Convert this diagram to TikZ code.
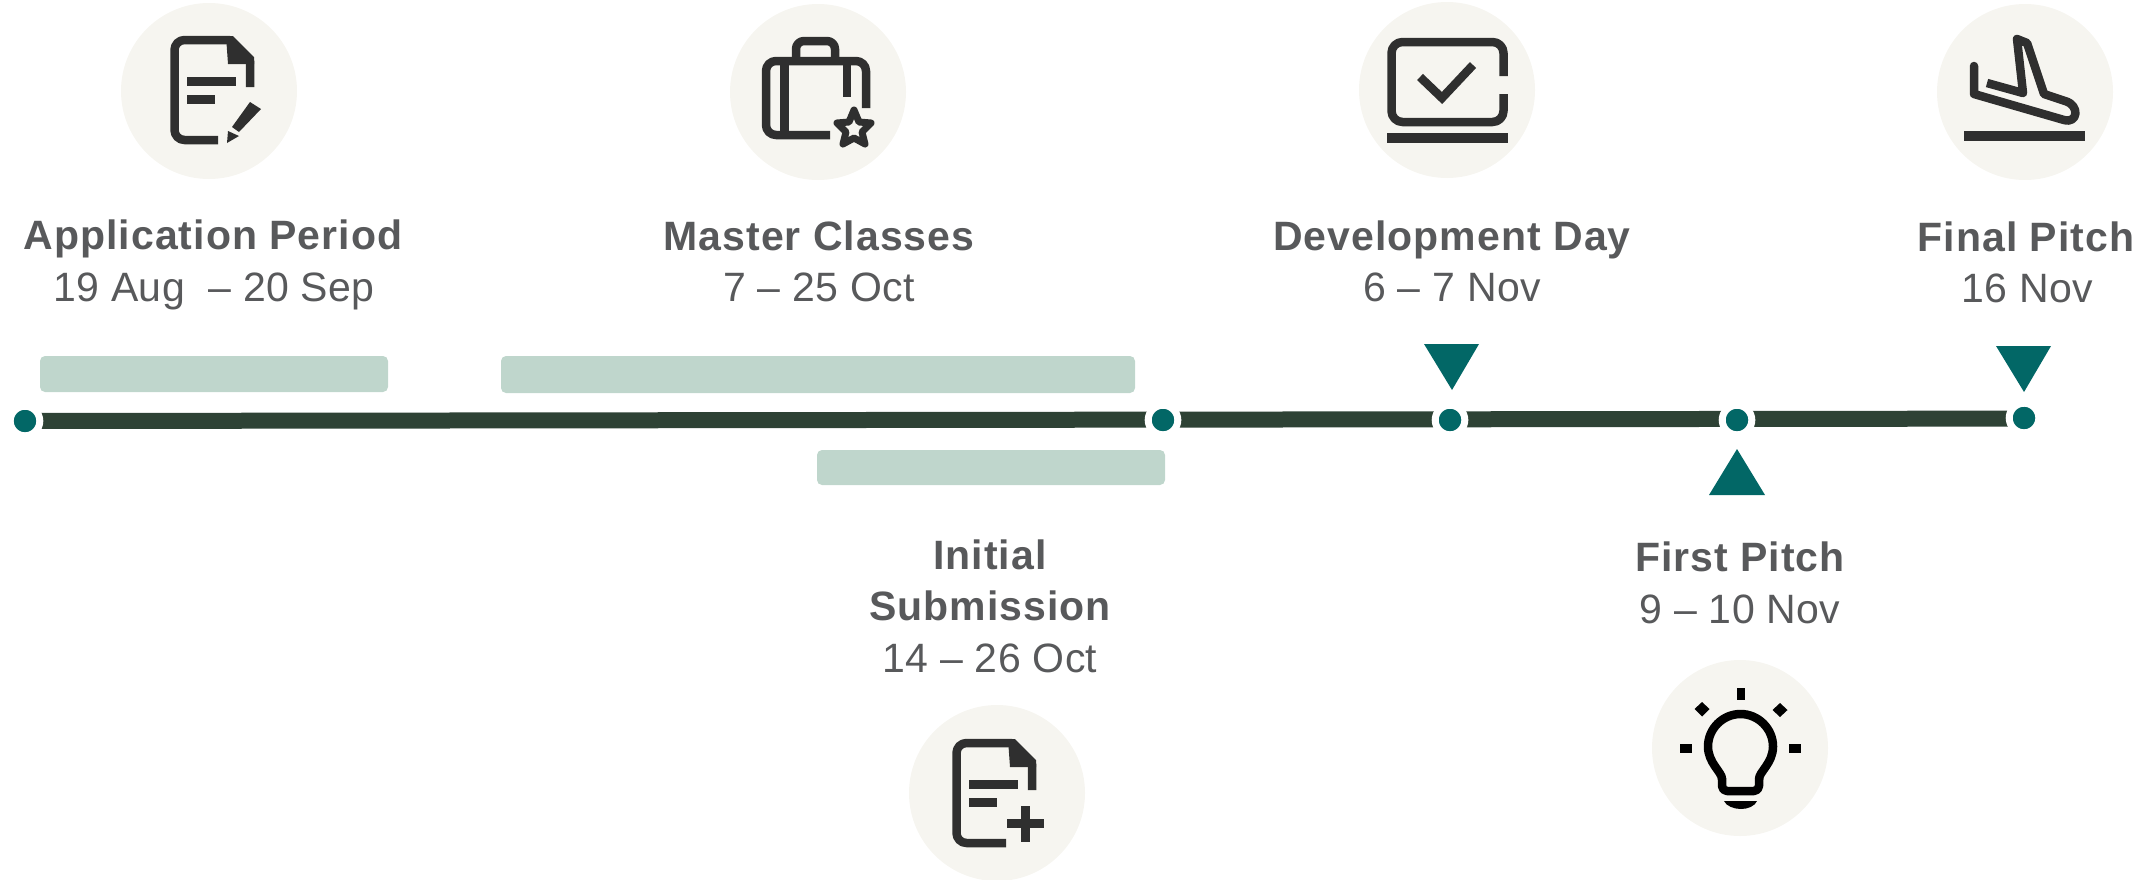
\documentclass[tikz,border=0pt]{standalone}
\usepackage{fontspec}
\setmainfont{Liberation Sans}
\newfontfamily\titlefont[LetterSpace=2.5]{Liberation Sans Bold}
\newfontfamily\datefont[LetterSpace=1]{Liberation Sans}
\definecolor{teal1}{HTML}{026766}
\definecolor{lineC}{HTML}{2E4235}
\definecolor{barC}{HTML}{BFD6CC}
\definecolor{discC}{HTML}{F6F5F0}
\definecolor{txtC}{HTML}{58595B}
\definecolor{iconC}{HTML}{2F2F2F}
\tikzset{
  discbox/.style={circle,fill=discC,draw=none,minimum size=176pt,inner sep=0pt,outer sep=0pt},
  dotbox/.style={circle,fill=teal1,draw=white,line width=7pt,minimum size=29.6pt,inner sep=0pt},
  bandbox/.style={fill=barC,draw=none,rounded corners=5pt},
  markbox/.style={fill=teal1,draw=none},
  titletext/.style={anchor=base,text=txtC,font=\titlefont\fontsize{41}{48}\selectfont,inner sep=0pt},
  datetext/.style={anchor=base,text=txtC,font=\datefont\fontsize{41}{48}\selectfont,inner sep=0pt},
  ico/.style={draw=iconC,line width=8.5pt,line join=round},
  icofill/.style={fill=iconC,draw=none},
}
\newcommand{\docicon}[1]{%
  \draw[ico,rounded corners=10pt] (#1,843) -- (956.5,843) -- (956.5,743) -- (1012,743);
  \draw[ico] (1012,743) -- (1032,764) -- (1032,790);
  \fill[icofill] (1008,739) -- (1015,739) -- (1036,760) -- (1036,767) -- (1010,767) -- cycle;
  \fill[icofill] (969,780) rectangle (1018,789);
  \fill[icofill] (969,798) rectangle (997,807);
}
\begin{document}
\begin{tikzpicture}[x=1pt,y=-1pt]
\useasboundingbox (0,0) rectangle (2154,879);
% discs
\node[discbox] (c1) at (209,91) {};
\node[discbox] (c2) at (818,92) {};
\node[discbox] (c3) at (1447,90) {};
\node[discbox] (c4) at (2025,92) {};
\node[discbox] (c5) at (997,793) {};
\node[discbox] (c6) at (1740,748) {};
% bands
\fill[bandbox] (40,356) rectangle (388,392);
\fill[bandbox] (501,356) rectangle (1135,393);
\fill[bandbox] (817,450) rectangle (1165,485);
% timeline
\coordinate (a) at (25,421);
\coordinate (b) at (2024,418.6);
\draw[lineC,line width=16pt] (a) -- (b);
\node[dotbox] (d1) at (25,421) {};
\node[dotbox] (d2) at (1163,420) {};
\node[dotbox] (d3) at (1450,420) {};
\node[dotbox] (d4) at (1737,420) {};
\node[dotbox] (d5) at (2024,418) {};
% markers
\fill[markbox] (1424,344) -- (1479,344) -- (1452,390) -- cycle;
\fill[markbox] (1709,495) -- (1765,495) -- (1737,449) -- cycle;
\fill[markbox] (1996,346) -- (2051,346) -- (2024,392) -- cycle;
% texts
\node[titletext] (t1) at (213,249) {Application Period};
\node[datetext] (e1) at (214,301) {19 Aug \ – 20 Sep};
\node[titletext] (t2) at (819,250) {Master Classes};
\node[datetext] (e2) at (819,301) {7 – 25 Oct};
\node[titletext] (t3) at (1452,250) {Development Day};
\node[datetext] (e3) at (1452,301) {6 – 7 Nov};
\node[titletext] (t4) at (2026,251) {Final Pitch};
\node[datetext] (e4) at (2027,302) {16 Nov};
\node[titletext] (t5a) at (990,569) {Initial};
\node[titletext] (t5b) at (990,620) {Submission};
\node[datetext] (e5) at (990,672) {14 – 26 Oct};
\node[titletext] (t6) at (1740,571) {First Pitch};
\node[datetext] (e6) at (1740,623) {9 – 10 Nov};
% icon 1
\begin{scope}[shift={(-782,-703)}]
\docicon{1000}
\end{scope}
\fill[icofill] (250,102) -- (261,109) -- (239,132) -- (232,127) -- cycle;
\fill[icofill] (227,143) -- (228,131) -- (239,136) -- cycle;
% icon 5
\docicon{1006}
\fill[icofill] (1007,819) rectangle (1044,828);
\fill[icofill] (1021,806) rectangle (1030,842);
% icon 2 case
\draw[ico,rounded corners=10pt] (866,108) -- (866,61) -- (766,61) -- (766,135) -- (830,135);
\draw[ico,rounded corners=8pt] (796,61) -- (796,41) -- (835,41) -- (835,61);
\draw[ico] (784.5,61) -- (784.5,135);
\draw[ico] (847,61) -- (847,97);
\draw[ico,line width=7pt] (854,110) -- (859,122) -- (871,123) -- (862,132) -- (865,144) -- (854,138) -- (843,144) -- (846,132) -- (837,123) -- (849,122) -- cycle;
% icon 3 laptop
\draw[ico,rounded corners=11pt] (1503.5,76) -- (1503.5,42) -- (1391.5,42) -- (1391.5,122) -- (1503.5,122) -- (1503.5,94);
\fill[icofill] (1387,133) rectangle (1508,143);
\draw[ico,line join=miter] (1420,77) -- (1442,98) -- (1473,65);
% icon 4 plane
\fill[icofill] (1964,131) rectangle (2085,141);
\draw[ico,line cap=round] (1974,66) -- (1974,94) -- (2064,120) .. controls (2078,124) and (2080,105) .. (2065,101) -- (2044,94) -- (2027,43) -- (2017,39) -- (2023,93);
\draw[ico] (2023,93) -- (1987,83);
% icon 6 bulb
\draw[draw=black,line width=8.5pt,line join=round,rounded corners=5pt] (1722,778) -- (1722,791) -- (1759,791) -- (1759,778);
\draw[draw=black,line width=8.5pt] (1722,779) .. controls (1722,772) and (1708,763) .. (1708,746.5) .. controls (1708,728.5) and (1723,714) .. (1740.5,714) .. controls (1758,714) and (1773,728.5) .. (1773,746.5) .. controls (1773,763) and (1759,772) .. (1759,779);
\fill[black] (1724,801) -- (1757,801) .. controls (1755,806) and (1748,809) .. (1741,809) .. controls (1734,809) and (1726,806) .. (1724,801) -- cycle;
\fill[black] (1737,688) rectangle (1745,700);
\fill[black] (1680,744) rectangle (1692,753);
\fill[black] (1789,744) rectangle (1801,753);
\fill[black] (1702,702) -- (1709.5,709) -- (1702,716.5) -- (1694.5,709) -- cycle;
\fill[black] (1780,703) -- (1787.5,710) -- (1780,717) -- (1772.5,710) -- cycle;
\end{tikzpicture}
\end{document}
